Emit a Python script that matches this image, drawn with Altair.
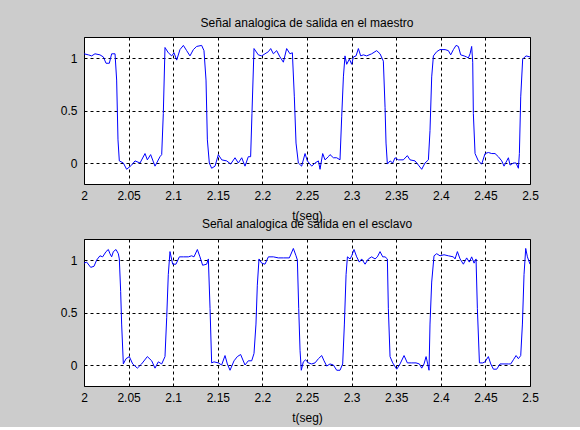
import altair as alt
import pandas as pd

FONT = "Liberation Sans"

# Señal en el maestro (t en segundos, valor)
t_maestro = [2.0000, 2.0049, 2.0086, 2.0123, 2.0179, 2.0217, 2.0247, 2.0284, 2.0310, 2.0348,
             2.0366, 2.0381, 2.0396, 2.0441, 2.0478, 2.0534, 2.0572, 2.0628, 2.0684, 2.0710,
             2.0747, 2.0796, 2.0852, 2.0871, 2.0889, 2.0908, 2.0945, 2.0983, 2.1009, 2.1039,
             2.1076, 2.1114, 2.1151, 2.1188, 2.1226, 2.1263, 2.1319, 2.1345, 2.1368, 2.1383,
             2.1405, 2.1431, 2.1469, 2.1506, 2.1544, 2.1600, 2.1644, 2.1693, 2.1730, 2.1768,
             2.1805, 2.1842, 2.1868, 2.1883, 2.1906, 2.1954, 2.1992, 2.2029, 2.2067, 2.2093,
             2.2123, 2.2160, 2.2197, 2.2235, 2.2272, 2.2309, 2.2336, 2.2358, 2.2377, 2.2403,
             2.2440, 2.2478, 2.2504,
             2.2553, 2.2590, 2.2628, 2.2646, 2.2676, 2.2702, 2.2740, 2.2758, 2.2796, 2.2833,
             2.2870, 2.2889, 2.2908, 2.2926, 2.2945, 2.2975, 2.3001, 2.3020, 2.3050, 2.3076,
             2.3102, 2.3132, 2.3169, 2.3225, 2.3281, 2.3319, 2.3356, 2.3375, 2.3386, 2.3401,
             2.3431, 2.3461, 2.3487, 2.3524, 2.3580, 2.3625, 2.3655, 2.3711, 2.3749, 2.3786,
             2.3823, 2.3861, 2.3879, 2.3898, 2.3917, 2.3954, 2.3991, 2.4048, 2.4085, 2.4111,
             2.4141, 2.4171, 2.4197, 2.4223, 2.4261, 2.4290, 2.4309, 2.4328, 2.4346, 2.4358,
             2.4365, 2.4384, 2.4421, 2.4459, 2.4496, 2.4533, 2.4571, 2.4608, 2.4645, 2.4683,
             2.4709, 2.4739, 2.4758, 2.4776, 2.4814, 2.4844, 2.4870, 2.4881, 2.4896, 2.4918,
             2.4956, 2.5000]
y_maestro = [1.04, 1.03, 1.02, 1.04, 1.03, 1.01, 0.95, 0.95, 1.04, 1.04,
             0.79, 0.22, 0.02, 0.00, -0.06, -0.02, 0.02, 0.00, 0.09, 0.03,
             0.08, -0.03, 0.06, 0.08, 0.47, 1.10, 1.05, 1.02, 1.05, 0.98,
             1.08, 1.12, 1.07, 1.02, 1.08, 1.11, 1.12, 1.07, 0.79, 0.22,
             0.00, -0.05, -0.03, 0.08, 0.03, 0.02, -0.01, 0.05, 0.00, 0.05,
             -0.03, 0.06, 0.06, 0.47, 1.09, 1.03, 1.02, 1.04, 1.06, 1.09,
             1.04, 1.07, 1.01, 0.96, 1.09, 1.04, 1.05, 0.63, 0.19, 0.00,
             -0.03, 0.09, 0.02,
             -0.03, 0.00, 0.02, -0.06, 0.09, 0.03, 0.06, 0.08, 0.05, 0.05,
             0.03, 0.44, 0.82, 1.02, 0.94, 0.99, 0.94, 1.01, 1.02, 1.09,
             1.02, 1.03, 1.02, 1.04, 1.07, 1.04, 0.97, 0.53, 0.19, -0.01,
             0.02, 0.00, 0.05, 0.03, 0.03, 0.07, 0.03, 0.02, -0.02, -0.06,
             0.00, 0.03, 0.31, 0.82, 1.02, 1.06, 1.08, 1.08, 1.07, 1.03,
             1.08, 1.12, 1.11, 1.03, 1.02, 1.01, 1.00, 1.04, 1.11, 0.96,
             0.47, 0.09, 0.02, -0.01, 0.09, 0.10, 0.09, 0.09, 0.06, 0.02,
             -0.03, 0.02, 0.05, -0.02, 0.00, 0.00, -0.05, 0.09, 0.63, 0.99,
             1.02, 1.01]

# Señal en el esclavo
t_esclavo = [2.0000, 2.0030, 2.0075, 2.0112, 2.0142, 2.0179, 2.0209, 2.0247, 2.0273, 2.0291,
             2.0310, 2.0329, 2.0359, 2.0385, 2.0396, 2.0411, 2.0422, 2.0441, 2.0471, 2.0508,
             2.0546, 2.0598, 2.0646, 2.0710, 2.0759, 2.0796, 2.0833, 2.0871, 2.0908, 2.0927,
             2.0945, 2.0964, 2.0994, 2.1031, 2.1069, 2.1114, 2.1170, 2.1207, 2.1233, 2.1271,
             2.1300, 2.1330, 2.1375, 2.1394, 2.1413, 2.1431, 2.1457, 2.1506, 2.1543, 2.1581,
             2.1607, 2.1637, 2.1682, 2.1719, 2.1756, 2.1805, 2.1842, 2.1880, 2.1906, 2.1928,
             2.1943, 2.1962, 2.1992, 2.2029, 2.2067, 2.2123, 2.2179, 2.2235, 2.2302, 2.2347,
             2.2377, 2.2392, 2.2407, 2.2422, 2.2436, 2.2459, 2.2485, 2.2515,
             2.2553, 2.2590, 2.2628, 2.2665, 2.2691, 2.2721, 2.2758, 2.2796, 2.2833, 2.2870,
             2.2900, 2.2919, 2.2938, 2.2953, 2.2983, 2.3001, 2.3027, 2.3057, 2.3087, 2.3113,
             2.3151, 2.3188, 2.3225, 2.3263, 2.3289, 2.3319, 2.3349, 2.3375, 2.3401, 2.3412,
             2.3431, 2.3461, 2.3506, 2.3543, 2.3588, 2.3625, 2.3674, 2.3722, 2.3760, 2.3786,
             2.3812, 2.3835, 2.3853, 2.3868, 2.3879, 2.3898, 2.3924, 2.3954, 2.3991, 2.4036,
             2.4085, 2.4141, 2.4160, 2.4186, 2.4216, 2.4253, 2.4290, 2.4320, 2.4346, 2.4373,
             2.4395, 2.4410, 2.4433, 2.4470, 2.4496, 2.4533, 2.4560, 2.4590, 2.4627, 2.4664,
             2.4709, 2.4758, 2.4784, 2.4814, 2.4844, 2.4870, 2.4896, 2.4915, 2.4933, 2.4952,
             2.4971, 2.5000]
y_esclavo = [0.97, 0.98, 0.93, 0.94, 1.00, 1.04, 1.03, 1.08, 1.10, 1.06,
             1.03, 1.08, 1.10, 1.06, 1.01, 0.70, 0.39, 0.01, 0.06, 0.08,
             0.01, -0.03, 0.01, 0.08, 0.04, -0.03, 0.03, 0.01, 0.08, 0.45,
             0.86, 1.08, 0.96, 0.96, 1.03, 1.03, 1.03, 1.04, 1.03, 1.10,
             1.03, 0.95, 0.96, 1.01, 0.54, 0.02, 0.03, 0.02, 0.00, 0.09,
             0.01, -0.05, 0.04, 0.08, 0.10, 0.00, 0.04, 0.04, 0.11, 0.39,
             0.76, 1.01, 0.97, 0.96, 1.03, 1.03, 1.02, 1.02, 1.02, 1.11,
             1.04, 1.00, 0.54, 0.14, -0.05, 0.03, 0.05, 0.02,
             0.01, 0.02, 0.06, 0.09, 0.04, -0.01, 0.01, 0.00, -0.05, -0.05,
             0.01, 0.39, 0.86, 1.03, 1.01, 1.04, 1.10, 1.03, 0.98, 1.01,
             0.96, 1.01, 1.03, 1.01, 1.03, 1.08, 1.03, 1.03, 1.01, 0.54,
             0.08, 0.02, -0.04, 0.01, 0.09, 0.02, 0.02, 0.02, 0.01, -0.03,
             0.01, 0.08, 0.01, -0.05, 0.39, 0.79, 1.04, 1.06, 1.04, 1.05,
             1.04, 1.03, 1.01, 1.08, 1.01, 0.96, 1.02, 0.98, 1.03, 0.97,
             1.01, 0.54, 0.02, 0.02, 0.03, 0.08, 0.01, -0.04, -0.04, 0.01,
             0.01, 0.01, 0.01, 0.05, 0.09, 0.06, 0.09, 0.39, 0.86, 1.11,
             1.03, 0.96]

x_ticks = [2.0, 2.05, 2.1, 2.15, 2.2, 2.25, 2.3, 2.35, 2.4, 2.45, 2.5]
y_ticks = [0, 0.5, 1]
titles = ["Señal analogica de salida en el maestro", "Señal analogica de salida en el esclavo"]
x_title = "t(seg)"


def panel(t, v, title, title_offset):
    df = pd.DataFrame({"t": t, "v": v})
    return (
        alt.Chart(
            df,
            title=alt.Title(title, fontSize=12, font=FONT, fontWeight="normal",
                            color="black", offset=title_offset, baseline="alphabetic"),
        )
        .mark_line(color="#0000ff", strokeWidth=1, clip=True)
        .encode(
            x=alt.X("t:Q",
                    scale=alt.Scale(domain=[2, 2.5], nice=False, zero=False),
                    axis=alt.Axis(values=x_ticks, format="~g", title=x_title,
                                  labelPadding=6, titlePadding=9)),
            y=alt.Y("v:Q",
                    scale=alt.Scale(domain=[-0.2, 1.2], nice=False, zero=False),
                    axis=alt.Axis(values=y_ticks, format="~g", title=None,
                                  labelPadding=7)),
        )
        .properties(width=446, height=147)
    )


top = panel(t_maestro, y_maestro, titles[0], -2)
bottom = panel(t_esclavo, y_esclavo, titles[1], -1)

chart = (
    alt.vconcat(top, bottom, spacing=55, bounds="flush")
    .properties(background="#cccccc",
                padding={"left": 59, "top": 16, "right": 41, "bottom": 3})
    .configure_view(stroke="black", strokeWidth=1, fill="white")
    .configure_axis(
        grid=True, gridColor="black", gridDash=[3, 3], gridOpacity=1, gridWidth=1,
        domain=False, ticks=False, tickSize=0,
        labelFont=FONT, labelFontSize=12, labelColor="black", labelFlush=False,
        labelOverlap=False,
        titleFont=FONT, titleFontSize=12, titleFontWeight="normal", titleColor="black",
    )
)

chart.save("out.html", embed_options={"renderer": "svg", "actions": False})
